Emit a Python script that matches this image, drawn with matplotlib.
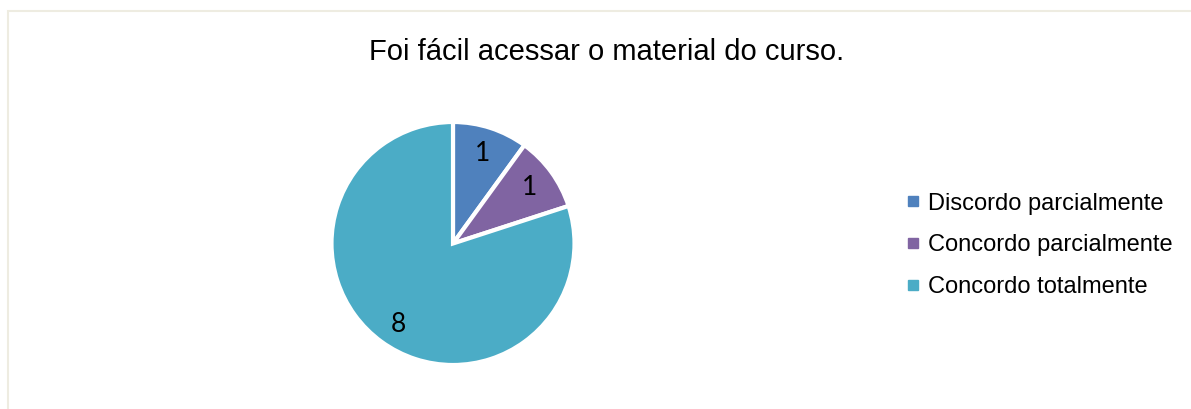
import numpy as np
import matplotlib.pyplot as plt
from matplotlib.lines import Line2D
from matplotlib.patches import Rectangle

titulo = "Foi fácil acessar o material do curso."
categorias = ["Discordo parcialmente", "Concordo parcialmente", "Concordo totalmente"]
valores = [1, 1, 8]
cores = ["#4F81BD", "#8064A2", "#4BACC6"]

W, H = 1191, 409
fig = plt.figure(figsize=(W / 100, H / 100), dpi=100)
fig.patch.set_facecolor("white")

# moldura clara do gráfico (só topo e esquerda aparecem)
fig.patches.append(Rectangle((7.5 / W, -0.1), 1.2, (H - 11.5) / H + 0.1,
                             transform=fig.transFigure, fill=False,
                             edgecolor="#EEECE1", linewidth=1.5))

fig.text(607 / W, 1 - 51.5 / H, titulo, ha="center", va="center",
         fontsize=21, family="Liberation Sans", color="black")

# eixo da pizza posicionado em pixels
cx, cy, r = 453, 243.5, 121.5
ax = fig.add_axes([(cx - r) / W, (H - cy - r) / H, 2 * r / W, 2 * r / H])
wedges, textos = ax.pie(valores, colors=cores, startangle=90, counterclock=False,
                        labels=[str(v) for v in valores], labeldistance=0.78,
                        wedgeprops=dict(edgecolor="white", linewidth=3),
                        textprops=dict(fontsize=19, family="Lato", color="black",
                                       ha="center", va="center"))
# rótulo da fatia grande fica mais à esquerda, como no original
ang = np.deg2rad(-124)
textos[2].set_position((0.8 * np.cos(ang), 0.8 * np.sin(ang)))
ax.set_xlim(-1.0, 1.0)
ax.set_ylim(-1.0, 1.0)
ax.set_aspect("equal")
ax.axis("off")
for w in wedges:
    w.set_clip_on(False)

handles = [Line2D([], [], marker="s", linestyle="", color=c, markersize=6.5)
           for c in cores]
fig.legend(handles, categorias, loc="center left",
           bbox_to_anchor=(906 / W, 1 - (cy + 2) / H), frameon=False,
           prop=dict(family="Liberation Sans", size=17),
           handlelength=0.6, handletextpad=0.35, labelspacing=0.84,
           borderaxespad=0, borderpad=0)

fig.savefig("out.png", dpi=100)
